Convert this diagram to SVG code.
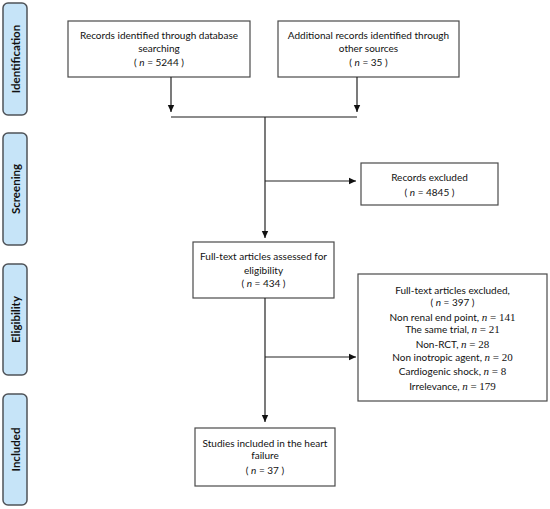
<svg xmlns="http://www.w3.org/2000/svg" width="550" height="509" viewBox="0 0 550 509">
<defs>
<marker id="ah" markerWidth="8" markerHeight="8" refX="7" refY="4" orient="auto" markerUnits="userSpaceOnUse">
<path d="M0,0.8 L7,4 L0,7.2 Z" fill="#111"/>
</marker>
<style>
.stage rect{fill:#c6e4f8;stroke:#4f5358;stroke-width:1.5}
.stage text{font-family:"Lato","Liberation Sans",sans-serif;font-weight:bold;font-size:11.5px;fill:#111;text-anchor:middle;dominant-baseline:central}
.box rect{fill:#fff;stroke:#4a4a4a;stroke-width:1.2}
.box text{font-family:"Lato","Liberation Sans",sans-serif;font-size:10px;fill:#111;text-anchor:middle}
.s{font-family:"Liberation Serif",serif;font-size:11px}
.i{font-style:italic}
.conn line,.conn path{stroke:#222;stroke-width:1.2;fill:none}
.merge{stroke:#666 !important;stroke-width:1.6 !important}
</style>
</defs>
<rect width="550" height="509" fill="#fff"/>

<g id="stage-identification" class="stage"><rect x="3" y="3" width="24" height="112" rx="5"/><text transform="translate(15,59) rotate(-90)">Identification</text></g>
<g id="stage-screening" class="stage"><rect x="3" y="133" width="24" height="112" rx="5"/><text transform="translate(15,189) rotate(-90)">Screening</text></g>
<g id="stage-eligibility" class="stage"><rect x="3" y="264" width="24" height="111" rx="5"/><text transform="translate(15,319.5) rotate(-90)">Eligibility</text></g>
<g id="stage-included" class="stage"><rect x="3" y="394" width="24" height="111" rx="5"/><text transform="translate(15,449.5) rotate(-90)">Included</text></g>

<g id="records-db" class="box"><rect x="68" y="21" width="182" height="56"/>
<text x="159" y="38.5">Records identified through database</text>
<text x="159" y="52">searching</text>
<text x="159" y="66" class="s">( <tspan class="i">n</tspan> =  5244 )</text></g>

<g id="records-other" class="box"><rect x="278" y="21" width="181" height="56"/>
<text x="368.5" y="38.5">Additional records identified through</text>
<text x="368.5" y="52">other sources</text>
<text x="368.5" y="66" class="s">( <tspan class="i">n</tspan> = 35 )</text></g>

<g id="records-excluded" class="box"><rect x="361" y="163" width="137" height="42"/>
<text x="429.5" y="181">Records excluded</text>
<text x="429.5" y="196" class="s">( <tspan class="i">n</tspan> = 4845 )</text></g>

<g id="fulltext-assessed" class="box"><rect x="193" y="242" width="141" height="56"/>
<text x="263.5" y="260">Full-text articles assessed for</text>
<text x="263.5" y="273.5">eligibility</text>
<text x="263.5" y="287" class="s">( <tspan class="i">n</tspan> = 434 )</text></g>

<g id="fulltext-excluded" class="box"><rect x="358" y="274" width="189" height="127"/>
<text x="452.5" y="293.5">Full-text articles excluded,</text>
<text x="452.5" y="305.5" class="s">( <tspan class="i">n</tspan> = 397 )</text>
<text x="452.5" y="320.5">Non renal end point, <tspan class="s"><tspan class="i">n</tspan> = 141</tspan></text>
<text x="452.5" y="333">The same trial, <tspan class="s"><tspan class="i">n</tspan> = 21</tspan></text>
<text x="452.5" y="348">Non-RCT, <tspan class="s"><tspan class="i">n</tspan> = 28</tspan></text>
<text x="452.5" y="361">Non inotropic agent, <tspan class="s"><tspan class="i">n</tspan> = 20</tspan></text>
<text x="452.5" y="374.5">Cardiogenic shock, <tspan class="s"><tspan class="i">n</tspan> = 8</tspan></text>
<text x="452.5" y="389.5">Irrelevance, <tspan class="s"><tspan class="i">n</tspan> = 179</tspan></text></g>

<g id="studies-included" class="box"><rect x="195" y="428" width="140" height="58"/>
<text x="265" y="446.5">Studies included in the heart</text>
<text x="265" y="458.5">failure</text>
<text x="265" y="473.5" class="s">( <tspan class="i">n</tspan> = 37 )</text></g>

<g id="connectors" class="conn">
<line x1="171" y1="77" x2="171" y2="112" marker-end="url(#ah)"/>
<line x1="357" y1="77" x2="357" y2="112" marker-end="url(#ah)"/>
<line class="merge" x1="171" y1="117" x2="357" y2="117"/>
<line x1="265" y1="117" x2="265" y2="238" marker-end="url(#ah)"/>
<line x1="265" y1="181" x2="356" y2="181" marker-end="url(#ah)"/>
<line x1="265" y1="298" x2="265" y2="422" marker-end="url(#ah)"/>
<line x1="265" y1="357" x2="356" y2="357" marker-end="url(#ah)"/>
</g>
</svg>
